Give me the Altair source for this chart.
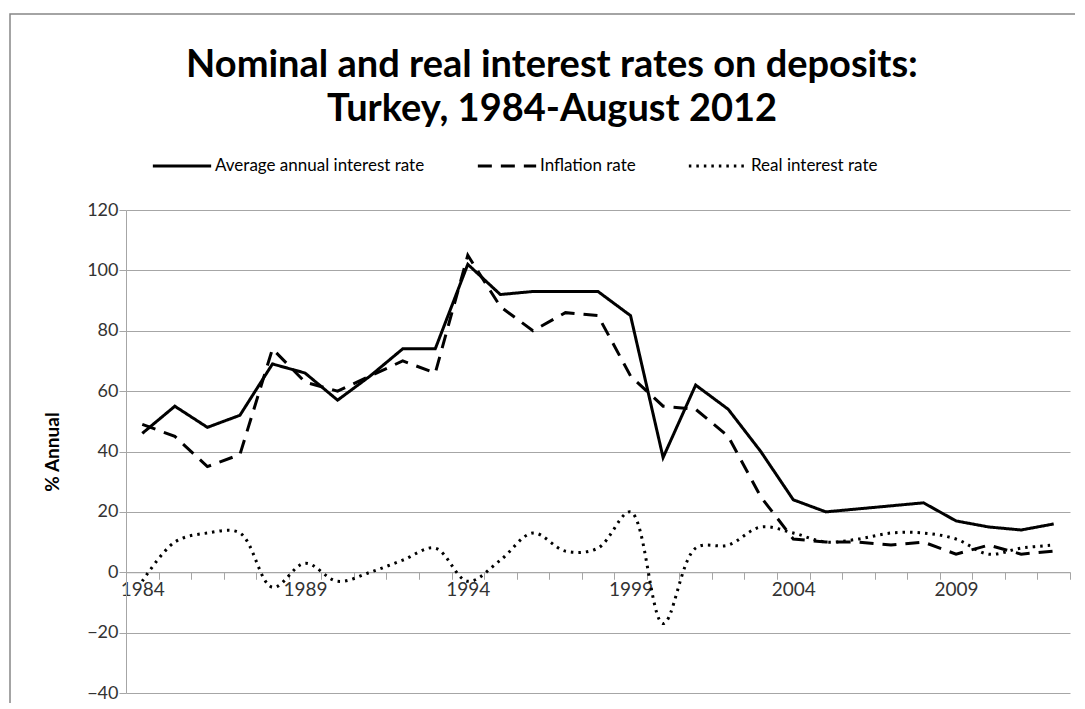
import altair as alt
import pandas as pd

years = [1984, 1985, 1986, 1987, 1988, 1989, 1990, 1991, 1992, 1993,
         1994, 1995, 1996, 1997, 1998, 1999, 2000, 2001, 2002, 2003,
         2004, 2005, 2006, 2007, 2008, 2009, 2010, 2011, 2012]
nominal = [46, 55, 48, 52, 69, 66, 57, 65, 74, 74,
           102, 92, 93, 93, 93, 85, 38, 62, 54, 40,
           24, 20, 21, 22, 23, 17, 15, 14, 16]
inflation = [49, 45, 35, 39, 74, 63, 60, 65, 70, 66,
             105, 88, 80, 86, 85, 65, 55, 54, 45, 25,
             11, 10, 10, 9, 10, 6, 9, 6, 7]
real = [-3, 10, 13, 13, -5, 3, -3, 0, 4, 8,
        -3, 4, 13, 7, 8, 20, -17, 8, 9, 15,
        13, 10, 11, 13, 13, 11, 6, 8, 9]
series_names = ["Average annual interest rate", "Inflation rate", "Real interest rate"]
x_label_years = [1984, 1989, 1994, 1999, 2004, 2009]
y_ticks = [-40, -20, 0, 20, 40, 60, 80, 100, 120]

rows = []
for name, vals in zip(series_names, [nominal, inflation, real]):
    for yr, v in zip(years, vals):
        rows.append({"year": yr, "value": v, "series": name})
df = pd.DataFrame(rows)

W, H = 944, 483
half = W / len(years) / 2
FONT = "Lato"
GRID = "#a6a6a6"

label_list = ",".join(str(v) for v in x_label_years)
x_enc = alt.X(
    "year:Q",
    scale=alt.Scale(domain=[1983.5, 2012.5], nice=False, zero=False),
    axis=alt.Axis(
        values=years, format="d", title=None, grid=False, labelFlush=False,
        tickOffset=half, labelOffset=-half, offset=-H * 40 / 160,
        labelExpr=f"indexof([{label_list}], datum.value) >= 0 ? datum.label : ''",
        tickSize=7, tickColor=GRID, domainColor=GRID, labelPadding=1,
        labelFont=FONT, labelFontSize=19, labelColor="#333333",
    ),
)
y_enc = alt.Y(
    "value:Q",
    scale=alt.Scale(domain=[-40, 120], nice=False),
    axis=alt.Axis(
        values=y_ticks, title="% Annual", grid=True, gridColor=GRID,
        tickSize=7, tickColor=GRID, domainColor=GRID, labelPadding=1,
        labelFont=FONT, labelFontSize=18, labelColor="#333333",
        titleFont=FONT, titleFontSize=19, titleFontWeight="bold", titleColor="black",
        titleAngle=270, titleX=-74, titleY=H / 2, titleAlign="center", titleBaseline="middle",
    ),
)
dash_enc = alt.StrokeDash(
    "series:N",
    scale=alt.Scale(domain=series_names, range=[[1, 0], [14, 9], [2.5, 5]]),
    legend=alt.Legend(
        title=None, orient="none", legendX=25, legendY=-75, direction="horizontal",
        symbolType="stroke", symbolSize=3400, symbolStrokeWidth=3,
        symbolStrokeColor="black", labelFont=FONT, labelFontSize=17, labelLimit=0,
        labelColor="black", labelOffset=2, columnPadding=46,
    ),
)

base = alt.Chart(df)
nom = base.transform_filter(alt.datum.series == series_names[0]).mark_line(
    color="black", strokeWidth=3).encode(x=x_enc, y=y_enc, strokeDash=dash_enc)
inf = base.transform_filter(alt.datum.series == series_names[1]).mark_line(
    color="black", strokeWidth=3).encode(x=x_enc, y=y_enc, strokeDash=dash_enc)
rea = base.transform_filter(alt.datum.series == series_names[2]).mark_line(
    color="black", strokeWidth=3, interpolate="catmull-rom").encode(
    x=x_enc, y=y_enc, strokeDash=dash_enc)

border = alt.Chart(pd.DataFrame({"k": [0]})).mark_rect(
    filled=False, stroke="#868686", strokeWidth=1.5).encode(
    x=alt.value(-116), x2=alt.value(1000), y=alt.value(-196), y2=alt.value(700))

chart = alt.layer(border, nom, inf, rea).properties(
    width=W, height=H,
    autosize=alt.AutoSizeParams(type="none"),
    padding={"left": 118, "top": 202, "right": 5, "bottom": 10},
    title=alt.TitleParams(
        text=["Nominal and real interest rates on deposits:", "Turkey, 1984-August 2012"],
        font=FONT, fontSize=38, fontWeight="bold", color="black",
        anchor="middle", dx=-46, offset=-116, lineHeight=44,
    ),
).configure_view(strokeWidth=0)

chart.save("out.html", embed_options={"renderer": "svg", "actions": False})
